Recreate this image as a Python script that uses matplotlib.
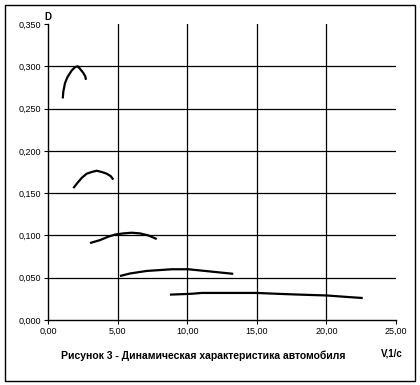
import matplotlib
matplotlib.use("Agg")
import matplotlib.pyplot as plt
from matplotlib.patches import Rectangle

# Gear curves: speed V (1/s) and dynamic factor D
v1 = [1.06, 1.10, 1.22, 1.39, 1.70, 1.94, 2.13, 2.30, 2.54, 2.68, 2.73]
d1 = [0.262, 0.270, 0.280, 0.287, 0.295, 0.299, 0.300, 0.297, 0.292, 0.288, 0.284]

v2 = [1.82, 2.11, 2.42, 2.78, 3.14, 3.50, 3.86, 4.22, 4.51, 4.69]
d2 = [0.156, 0.162, 0.168, 0.173, 0.175, 0.1765, 0.175, 0.173, 0.170, 0.166]

v3 = [3.02, 3.74, 4.33, 4.81, 5.41, 6.01, 6.61, 7.21, 7.81]
d3 = [0.091, 0.0945, 0.0985, 0.101, 0.1024, 0.1032, 0.1024, 0.100, 0.0957]

v4 = [5.17, 5.89, 7.09, 8.89, 10.08, 10.68, 11.88, 13.31]
d4 = [0.052, 0.055, 0.058, 0.060, 0.060, 0.059, 0.057, 0.0546]

v5 = [8.76, 10.32, 11.04, 14.99, 16.43, 18.10, 20.02, 21.70, 22.61]
d5 = [0.030, 0.031, 0.032, 0.032, 0.031, 0.030, 0.029, 0.027, 0.026]

xticks = [0, 5, 10, 15, 20, 25]
yticks = [0.0, 0.05, 0.10, 0.15, 0.20, 0.25, 0.30, 0.35]

plt.rcParams['font.family'] = ['Liberation Sans', 'DejaVu Sans']

fig = plt.figure(figsize=(4.2, 3.85), dpi=100)
fig.patch.set_facecolor('white')
fig.patches.append(Rectangle((5/420, 1 - 381/385), 410/420, 376/385,
                             transform=fig.transFigure, fill=False,
                             edgecolor='black', linewidth=1.0))

ax = fig.add_axes([48/420, 1 - 320/385, 348/420, 296/385])
for v, d in [(v1, d1), (v2, d2), (v3, d3), (v4, d4), (v5, d5)]:
    ax.plot(v, d, color='black', linewidth=1.6, zorder=3,
            solid_capstyle='butt', solid_joinstyle='round')

ax.set_xlim(0, 25)
ax.set_ylim(0, 0.35)
ax.set_xticks(xticks)
ax.set_yticks(yticks)
ax.set_xticklabels([f"{t:.2f}".replace('.', ',') for t in xticks], fontsize=6.5)
ax.set_yticklabels([f"{t:.3f}".replace('.', ',') for t in yticks], fontsize=6.5)

for t in xticks[1:-1]:
    ax.axvline(t, color='black', linewidth=0.9, zorder=1)
for t in yticks[1:-1]:
    ax.axhline(t, color='black', linewidth=0.9, zorder=1)

for s in ['top', 'right']:
    ax.spines[s].set_visible(False)
ax.spines['left'].set_linewidth(1.0)
ax.spines['bottom'].set_linewidth(1.0)
ax.tick_params(axis='both', direction='out', length=3, width=0.8, pad=2)

fig.text(48/420, 1 - 17/385, 'D', fontsize=7, fontweight='bold', ha='center', va='center')
fig.text(392/420, 1 - 353/385, 'V,1/с', fontsize=7, fontweight='bold', ha='center', va='center')
fig.text(203/420, 1 - 356/385, 'Рисунок 3 - Динамическая характеристика автомобиля',
         fontsize=7.5, fontweight='bold', ha='center', va='center')

fig.savefig('out.png', dpi=100)
